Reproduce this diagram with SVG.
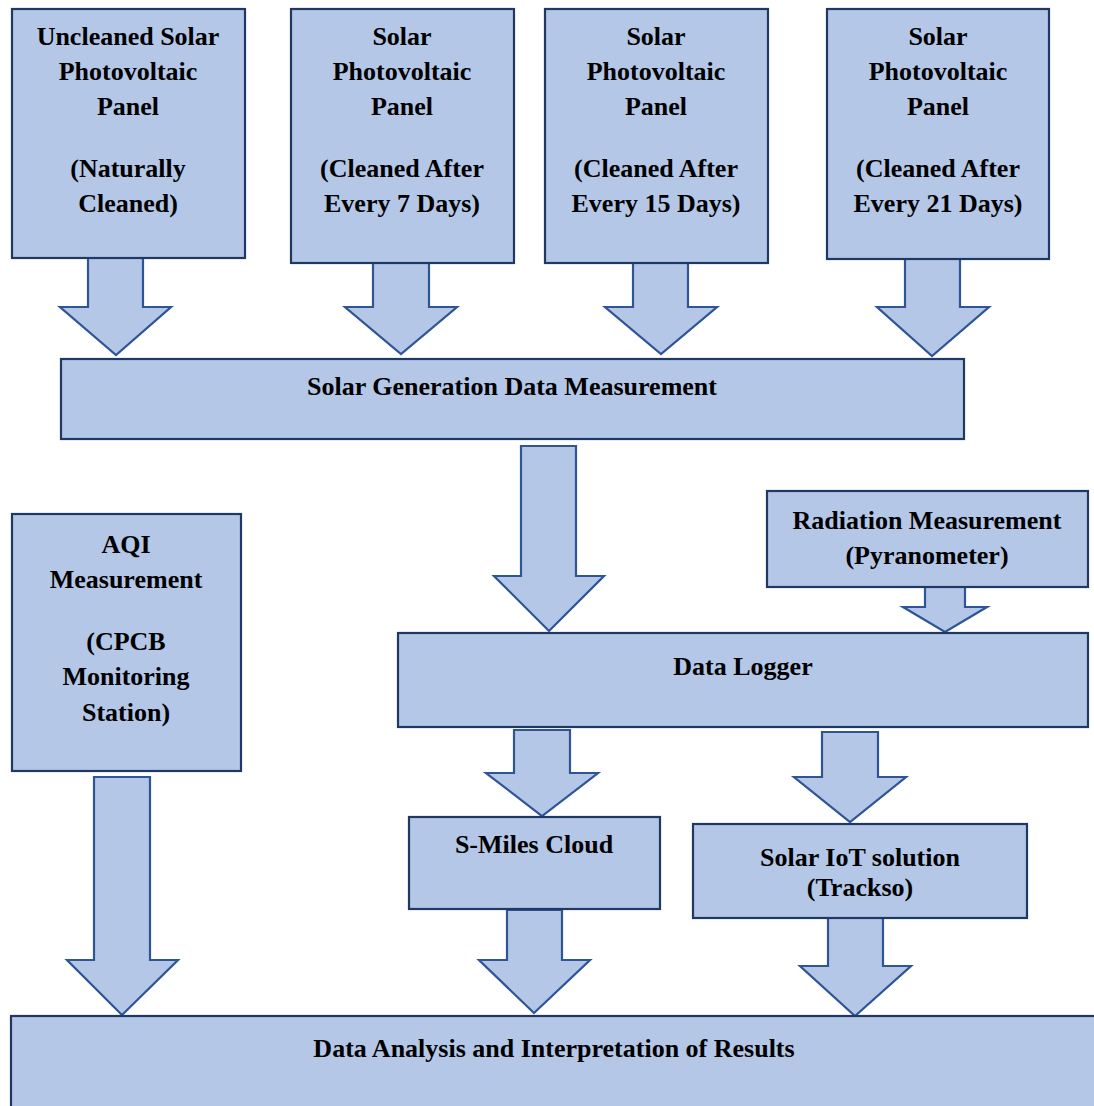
<svg xmlns="http://www.w3.org/2000/svg" width="1094" height="1106" viewBox="0 0 1094 1106">
  <style>
    .box { fill: #B4C7E7; stroke: #1F3864; stroke-width: 2.2; }
    .arrow { fill: #B4C7E7; stroke: #2F5597; stroke-width: 2.2; stroke-linejoin: miter; }
    text { font-family: "Liberation Serif", "Times New Roman", serif; font-weight: bold; font-size: 26px; fill: #000; text-anchor: middle; }
  </style>
  <rect width="1094" height="1106" fill="#FFFFFF"/>

  <!-- block arrows between stages -->
  <g id="connectors">
    <polygon class="arrow" points="88,258 143,258 143,307 171,307 116,355 60,307 88,307"/>
    <polygon class="arrow" points="373,263 429,263 429,307 457,307 401,354 345,307 373,307"/>
    <polygon class="arrow" points="633,263 688,263 688,307 717,307 661,354 605,307 633,307"/>
    <polygon class="arrow" points="905,259 960,259 960,307 989,307 932,356 877,307 905,307"/>
    <polygon class="arrow" points="521,446 576,446 576,576 604,576 549,631 494,576 521,576"/>
    <polygon class="arrow" points="925,587 965,587 965,607 987,607 945,632 903,607 925,607"/>
    <polygon class="arrow" points="94,777 150,777 150,960 178,960 122,1015 67,960 94,960"/>
    <polygon class="arrow" points="514,730 570,730 570,773 598,773 542,816 486,773 514,773"/>
    <polygon class="arrow" points="822,732 878,732 878,777 906,777 850,822 794,777 822,777"/>
    <polygon class="arrow" points="507,910 562,910 562,960 590,960 534,1013 479,960 507,960"/>
    <polygon class="arrow" points="828,915 883,915 883,966 911,966 855,1016 800,966 828,966"/>
  </g>

  <g id="panel-uncleaned">
    <rect class="box" x="12" y="9" width="233" height="249"/>
    <text x="128" y="45">Uncleaned Solar</text>
    <text x="128" y="80">Photovoltaic</text>
    <text x="128" y="115">Panel</text>
    <text x="128" y="177">(Naturally</text>
    <text x="128" y="212">Cleaned)</text>
  </g>

  <g id="panel-7days">
    <rect class="box" x="291" y="9" width="223" height="254"/>
    <text x="402" y="45">Solar</text>
    <text x="402" y="80">Photovoltaic</text>
    <text x="402" y="115">Panel</text>
    <text x="402" y="177">(Cleaned After</text>
    <text x="402" y="212">Every 7 Days)</text>
  </g>

  <g id="panel-15days">
    <rect class="box" x="545" y="9" width="223" height="254"/>
    <text x="656" y="45">Solar</text>
    <text x="656" y="80">Photovoltaic</text>
    <text x="656" y="115">Panel</text>
    <text x="656" y="177">(Cleaned After</text>
    <text x="656" y="212">Every 15 Days)</text>
  </g>

  <g id="panel-21days">
    <rect class="box" x="827" y="9" width="222" height="250"/>
    <text x="938" y="45">Solar</text>
    <text x="938" y="80">Photovoltaic</text>
    <text x="938" y="115">Panel</text>
    <text x="938" y="177">(Cleaned After</text>
    <text x="938" y="212">Every 21 Days)</text>
  </g>

  <g id="generation-measurement">
    <rect class="box" x="61" y="359" width="903" height="80"/>
    <text x="512" y="395">Solar Generation Data Measurement</text>
  </g>

  <g id="radiation-measurement">
    <rect class="box" x="767" y="491" width="321" height="96"/>
    <text x="927" y="529">Radiation Measurement</text>
    <text x="927" y="564">(Pyranometer)</text>
  </g>

  <g id="data-logger">
    <rect class="box" x="398" y="633" width="690" height="94"/>
    <text x="743" y="675">Data Logger</text>
  </g>

  <g id="aqi-measurement">
    <rect class="box" x="12" y="514" width="229" height="257"/>
    <text x="126" y="553">AQI</text>
    <text x="126" y="588">Measurement</text>
    <text x="126" y="650">(CPCB</text>
    <text x="126" y="685">Monitoring</text>
    <text x="126" y="721">Station)</text>
  </g>

  <g id="smiles-cloud">
    <rect class="box" x="409" y="817" width="251" height="92"/>
    <text x="534" y="853">S-Miles Cloud</text>
  </g>

  <g id="iot-solution">
    <rect class="box" x="693" y="824" width="334" height="94"/>
    <text x="860" y="866">Solar IoT solution</text>
    <text x="860" y="896">(Trackso)</text>
  </g>

  <g id="data-analysis">
    <rect class="box" x="11" y="1016" width="1095" height="100"/>
    <text x="554" y="1057">Data Analysis and Interpretation of Results</text>
  </g>
</svg>
